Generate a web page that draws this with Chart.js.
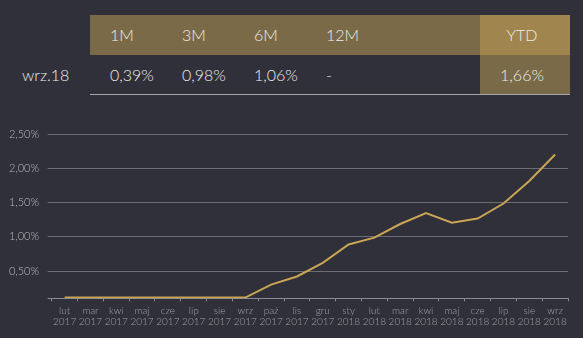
<!DOCTYPE html>
<html>
<head>
<meta charset="utf-8">
<script src="https://cdn.jsdelivr.net/npm/chart.js@4"></script>
<style>
    html, body { margin: 0; padding: 0; }
    body {
        width: 583px;
        height: 338px;
        background: #30303a;
        position: relative;
        overflow: hidden;
        font-family: Lato, sans-serif;
        font-weight: 300;
        color: #ececec;
    }
    .band { position: absolute; }
    .cell { position: absolute; font-size: 16px; line-height: 20px; white-space: nowrap; }
    #chartBox { position: absolute; left: 0; top: 110px; width: 583px; height: 228px; }
</style>
</head>
<body>
<div id="table"></div>
<div id="chartBox"><canvas id="returnChart"></canvas></div>

<script>
// Data Store
const ROW_LABEL = 'wrz.18';
const PERIOD_LABELS = ['1M', '3M', '6M', '12M'];
const PERIOD_VALUES = ['0,39%', '0,98%', '1,06%', '-'];
const YTD_LABEL = 'YTD';
const YTD_VALUE = '1,66%';

const MONTHS = ['lut', 'mar', 'kwi', 'maj', 'cze', 'lip', 'sie', 'wrz', 'paź', 'lis', 'gru',
    'sty', 'lut', 'mar', 'kwi', 'maj', 'cze', 'lip', 'sie', 'wrz'];
const YEARS = ['2017', '2017', '2017', '2017', '2017', '2017', '2017', '2017', '2017', '2017', '2017',
    '2018', '2018', '2018', '2018', '2018', '2018', '2018', '2018', '2018'];
const RETURNS = [0.11, 0.11, 0.11, 0.11, 0.11, 0.11, 0.11, 0.11, 0.30, 0.42, 0.62,
    0.89, 0.99, 1.19, 1.35, 1.21, 1.27, 1.49, 1.82, 2.21];
const Y_MIN = 0.1;
const Y_MAX = 2.5;
const Y_TICKS = [0.5, 1.0, 1.5, 2.0, 2.5];

/**
 * Summary table
 */
function buildTable() {
    const table = document.getElementById('table');

    function addBox(left, top, width, height, color) {
        const div = document.createElement('div');
        div.className = 'band';
        div.style.cssText = `left:${left}px;top:${top}px;width:${width}px;height:${height}px;background:${color}`;
        table.appendChild(div);
    }

    function addText(text, left, centerY, align) {
        const div = document.createElement('div');
        div.className = 'cell';
        div.textContent = text;
        div.style.top = (centerY - 10) + 'px';
        if (align === 'center') {
            div.style.left = (left - 40) + 'px';
            div.style.width = '80px';
            div.style.textAlign = 'center';
        } else {
            div.style.left = left + 'px';
        }
        table.appendChild(div);
    }

    addBox(90, 15, 390, 40, '#7b6a48');   // header band
    addBox(480, 15, 90, 40, '#a0854f');   // YTD header
    addBox(480, 55, 90, 39, '#7b6a48');   // YTD value cell
    addBox(90, 93.5, 480, 1.5, '#a6a6aa'); // bottom rule

    const cols = [110, 182, 254, 326];
    PERIOD_LABELS.forEach((label, i) => addText(label, cols[i], 34.5));
    PERIOD_VALUES.forEach((val, i) => addText(val, cols[i], 74.5));
    addText(ROW_LABEL, 22, 74.5);
    addText(YTD_LABEL, 522, 34.5, 'center');
    addText(YTD_VALUE, 522, 74.5, 'center');
}

/**
 * Line chart
 */
function buildChart() {
    const ctx = document.getElementById('returnChart').getContext('2d');
    const labels = MONTHS.map((m, i) => [m, YEARS[i]]);

    new Chart(ctx, {
        type: 'line',
        data: {
            labels: labels,
            datasets: [{
                data: RETURNS,
                borderColor: '#c9a554',
                borderWidth: 2,
                pointRadius: 0,
                tension: 0,
                fill: false
            }]
        },
        options: {
            responsive: true,
            maintainAspectRatio: false,
            animation: false,
            layout: { padding: { top: 24.7, right: 15, left: 0, bottom: 0 } },
            plugins: { legend: { display: false }, tooltip: { enabled: false } },
            scales: {
                x: {
                    offset: true,
                    grid: {
                        offset: true,
                        drawOnChartArea: false,
                        drawTicks: true,
                        tickLength: 3,
                        color: '#8a8a92'
                    },
                    border: { display: true, color: '#8a8a92', width: 1 },
                    ticks: {
                        color: '#a0a0a8',
                        font: { family: 'Lato', size: 10, weight: '300', lineHeight: 1.07 },
                        padding: 4,
                        maxRotation: 0,
                        autoSkip: false
                    },
                    afterFit: (scale) => { scale.height = 39.7; }
                },
                y: {
                    min: Y_MIN,
                    max: Y_MAX,
                    afterBuildTicks: (scale) => {
                        scale.ticks = [{ value: Y_MIN }].concat(Y_TICKS.map(v => ({ value: v })));
                    },
                    grid: {
                        color: (c) => c.tick && c.tick.value === Y_MIN ? '#8a8a92' : '#6c6c74',
                        lineWidth: 1,
                        drawTicks: true,
                        tickLength: 4
                    },
                    border: { display: false },
                    ticks: {
                        color: '#b8b8c0',
                        font: { family: 'Lato', size: 11, weight: '300' },
                        padding: 8.7,
                        callback: (v) => v === Y_MIN ? '' : v.toFixed(2).replace('.', ',') + '%'
                    },
                    afterFit: (scale) => { scale.width = 51.7; }
                }
            }
        }
    });
}

document.addEventListener('DOMContentLoaded', () => {
    buildTable();
    buildChart();
});
</script>
</body>
</html>
